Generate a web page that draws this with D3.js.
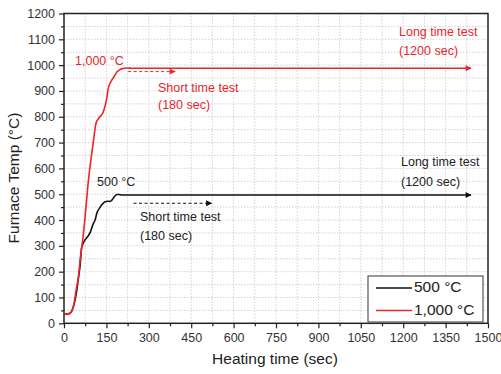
<!DOCTYPE html>
<html><head><meta charset="utf-8">
<script src="https://cdn.jsdelivr.net/npm/d3@7"></script>
<style>body{margin:0;background:#fff;} text{font-family:"Liberation Sans",Arial,sans-serif;}</style>
</head><body><svg id="c" width="501" height="374"></svg>
<script>
const xTicks = [0,150,300,450,600,750,900,1050,1200,1350,1500];
const yTicks = [0,100,200,300,400,500,600,700,800,900,1000,1100,1200];
const timeRed = [0,10,21,33,45,51,57,68,80,86,92,104,113,120,127,135,141,151,157,163,169,174,180,186,192,200,210,220,227,240,1440];
const tempRed = [36,36,39,64,142,180,245,340,477,550,606,705,774,790,800,810,825,870,912,930,942,950,960,972,978,984,987,989,989,988,988];
const time500 = [0,10,21,33,45,51,57,62,66,74,92,104,110,116,127,133,145,155,163,170,174,180,188,195,204,1440];
const temp500 = [36,36,39,64,125,175,225,290,305,322,350,387,400,426,448,458,471,473,472,478,484,493,499,499,497,497];

const svg = d3.select("#c");
const L=64,R=488,T=13.5,B=323.3;
const x = d3.scaleLinear().domain([0,1500]).range([L,R]);
const y = d3.scaleLinear().domain([0,1200]).range([B,T]);

// grid
const gx = d3.range(75,1500,75), gy = d3.range(50,1200,50);
svg.append("g").selectAll("line").data(gx).join("line")
  .attr("x1",d=>x(d)).attr("x2",d=>x(d)).attr("y1",T).attr("y2",B)
  .attr("stroke","#c8c8c8").attr("stroke-width",0.8).attr("stroke-dasharray","1.5,1.5");
svg.append("g").selectAll("line").data(gy).join("line")
  .attr("y1",d=>y(d)).attr("y2",d=>y(d)).attr("x1",L).attr("x2",R)
  .attr("stroke","#c8c8c8").attr("stroke-width",0.8).attr("stroke-dasharray","1.5,1.5");

// axes
const xa = svg.append("g").attr("transform",`translate(0,${B})`)
  .call(d3.axisBottom(x).tickValues(xTicks).tickSize(5).tickPadding(5).tickFormat(d3.format("d")));
const xm = svg.append("g").attr("transform",`translate(0,${B})`)
  .call(d3.axisBottom(x).tickValues(d3.range(75,1500,150)).tickSize(3).tickFormat(""));
const ya = svg.append("g").attr("transform",`translate(${L},0)`)
  .call(d3.axisLeft(y).tickValues(yTicks).tickSize(5).tickPadding(4).tickFormat(d3.format("d")));
const ym = svg.append("g").attr("transform",`translate(${L},0)`)
  .call(d3.axisLeft(y).tickValues(d3.range(50,1200,100)).tickSize(3).tickFormat(""));
[xa,xm,ya,ym].forEach(g=>{g.select(".domain").remove();
  g.selectAll(".tick line").attr("stroke","#222").attr("stroke-width",1.2);
  g.selectAll("text").attr("font-size",12.5).attr("fill","#333").attr("font-family","Liberation Sans, Arial, sans-serif");});
svg.append("rect").attr("x",L).attr("y",T).attr("width",R-L).attr("height",B-T)
  .attr("fill","none").attr("stroke","#222").attr("stroke-width",1.5);

// markers
const defs = svg.append("defs");
function mk(id,col){defs.append("marker").attr("id",id).attr("viewBox","0 0 10 10").attr("refX",9).attr("refY",5)
  .attr("markerWidth",8).attr("markerHeight",6).attr("markerUnits","userSpaceOnUse").attr("orient","auto")
  .append("path").attr("d","M0,0L10,5L0,10z").attr("fill",col);}
mk("ar","#e8262b"); mk("ab","#111");

const line = d3.line().x(d=>x(d[0])).y(d=>y(d[1])).curve(d3.curveMonotoneX);
svg.append("path").datum(d3.zip(time500,temp500)).attr("d",line).attr("fill","none")
  .attr("stroke","#111").attr("stroke-width",1.6).attr("marker-end","url(#ab)");
svg.append("path").datum(d3.zip(timeRed,tempRed)).attr("d",line).attr("fill","none")
  .attr("stroke","#e8262b").attr("stroke-width",1.6).attr("marker-end","url(#ar)");

// dashed arrows
function darrow(t1,t2,v,col,m){svg.append("line").attr("x1",x(t1)).attr("x2",x(t2)).attr("y1",y(v)).attr("y2",y(v))
  .attr("stroke",col).attr("stroke-width",1).attr("stroke-dasharray","3,2.5").attr("marker-end",`url(#${m})`);}
darrow(227,393,975,"#e8262b","ar");
darrow(246,522,465,"#111","ab");

function txt(px,py,s,col,fs,anchor){svg.append("text").attr("x",px).attr("y",py).attr("fill",col)
  .attr("font-size",fs||12.5).attr("text-anchor",anchor||"start").attr("dominant-baseline","middle").text(s);}
const red="#e8262b", dk="#222";
txt(75,62,"1,000 °C",red);
txt(158,89,"Short time test",red);
txt(158,106,"(180 sec)",red);
txt(399,33,"Long time test",red);
txt(399,52,"(1200 sec)",red);
txt(97,183,"500 °C",dk);
txt(140,218,"Short time test",dk);
txt(140,237,"(180 sec)",dk);
txt(401,163,"Long time test",dk);
txt(401,183,"(1200 sec)",dk);

// axis labels
svg.append("text").attr("x",275).attr("y",360).attr("text-anchor","middle").attr("dominant-baseline","middle")
  .attr("font-size",15.5).attr("fill","#222").text("Heating time (sec)");
svg.append("text").attr("transform","translate(15,178) rotate(-90)").attr("text-anchor","middle")
  .attr("dominant-baseline","middle").attr("font-size",15.5).attr("fill","#222").text("Furnace Temp (°C)");

// legend
svg.append("rect").attr("x",368).attr("y",276).attr("width",115).attr("height",46)
  .attr("fill","#fff").attr("stroke","#555").attr("stroke-width",1.2);
const leg=[["500 °C","#111"],["1,000 °C","#e8262b"]];
leg.forEach((d,i)=>{const yy=288+i*22.5;
  svg.append("line").attr("x1",376).attr("x2",412).attr("y1",yy).attr("y2",yy).attr("stroke",d[1]).attr("stroke-width",1.6);
  svg.append("text").attr("x",414).attr("y",yy).attr("dominant-baseline","middle").attr("font-size",15.5).attr("fill","#222").text(d[0]);});
</script></body></html>
